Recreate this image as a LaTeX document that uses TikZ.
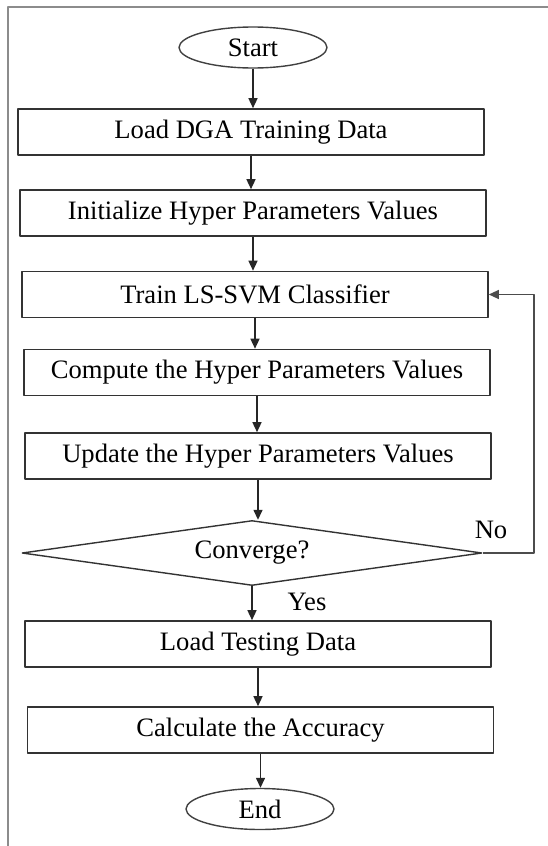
\documentclass[tikz,border=0pt]{standalone}
\usepackage{fontspec}
\setmainfont{Liberation Serif}
\usetikzlibrary{arrows.meta, shapes.geometric}

\begin{document}
\begin{tikzpicture}[
  x={(1pt,0pt)},
  y={(0pt,-1pt)},
  line join=round,
  font=\fontsize{26.6}{30}\selectfont,
  stepbox/.style={draw=black!80, line width=1.6pt, minimum width=466pt, minimum height=46pt, inner sep=0pt},
  terminal/.style={ellipse, draw=black!75, line width=1.4pt, minimum width=148pt, minimum height=41pt, inner sep=0pt},
  decision/.style={diamond, aspect=7, draw=black!80, line width=1.4pt, minimum width=460pt, minimum height=65pt, inner sep=0pt},
  flow/.style={-{Triangle[length=10pt, width=9pt]}, line width=1.4pt, black!85},
]

\useasboundingbox (0,0) rectangle (548,846);

% outer frame (only left and top edges show)
\draw[gray!90, line width=1.5pt] (8,846) -- (8,7) -- (548,7);

% start / end
\node[terminal] (start) at (253,47.5) {Start};
\node[terminal] (finish) at (260,809) {End};

% process steps
\node[stepbox] (loaddga)   at (251,132)   {Load DGA Training Data};
\node[stepbox] (initparam) at (253,213)   {Initialize Hyper Parameters Values};
\node[stepbox] (trainsvm)  at (255,294.5) {Train LS-SVM Classifier};
\node[stepbox] (compute)   at (257,372.5) {Compute the Hyper Parameters Values};
\node[stepbox] (update)    at (258,456)   {Update the Hyper Parameters Values};
\node[stepbox] (loadtest)  at (258,644)   {Load Testing Data};
\node[stepbox] (accuracy)  at (260.5,730) {Calculate the Accuracy};

% decision
\node[decision] (converge) at (252,553) {Converge?};

% labels of the two exits
\node (yes) at (307,602) {Yes};
\node (no)  at (491,530) {No};

% main flow
\draw[flow] (start) -- (start |- loaddga.north);
\draw[flow] (loaddga) -- (loaddga |- initparam.north);
\draw[flow] (initparam) -- (initparam |- trainsvm.north);
\draw[flow] (trainsvm) -- (trainsvm |- compute.north);
\draw[flow] (compute) -- (compute |- update.north);
\draw[flow] (update) -- (update |- converge.north);
\draw[flow] (converge) -- (converge |- loadtest.north);
\draw[flow] (loadtest) -- (loadtest |- accuracy.north);
\draw[flow] (accuracy) -- (accuracy |- finish.north);

% loop back when not converged
\coordinate (loopcorner) at (534,553);
\draw[flow, line width=1.2pt, black!70] (converge.east) -- (loopcorner) |- (trainsvm.east);

\end{tikzpicture}
\end{document}
